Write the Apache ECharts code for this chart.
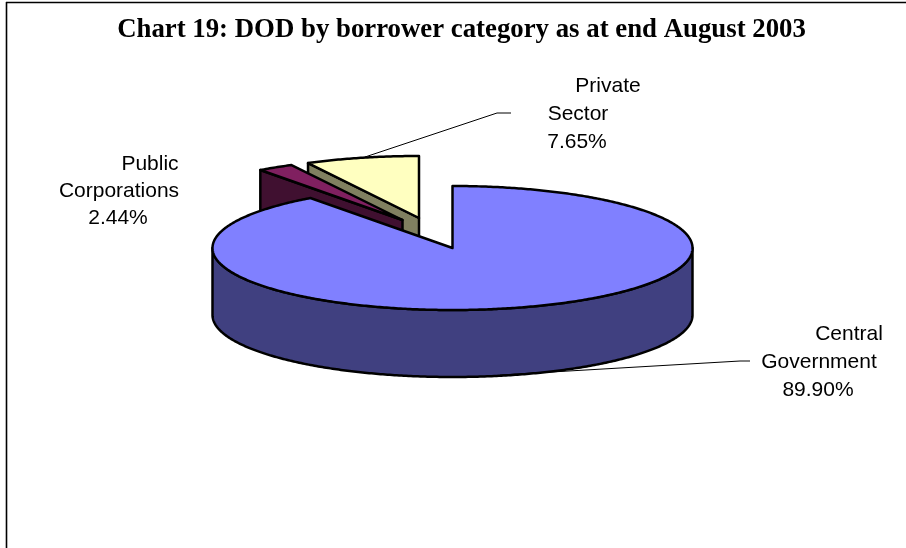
<!DOCTYPE html>
<html>
<head>
<meta charset="utf-8">
<style>
  html, body { margin: 0; padding: 0; background: #fff; }
  #chart { width: 906px; height: 548px; }
</style>
<script src="https://cdn.jsdelivr.net/npm/echarts@6/dist/echarts.min.js"></script>
</head>
<body>
<div id="chart"></div>
<script>
// Outstanding debt shares by borrower category, in percent, clockwise from twelve o'clock.
const categories = ['Central Government', 'Public Corporations', 'Private Sector'];
const shares = [89.90, 2.44, 7.65];

const total = shares.reduce((a, b) => a + b, 0);
const TAU = Math.PI * 2;

// Tilted-disc projection of the pie.
const disc = { cx: 452.5, cy: 248, rx: 240, ry: 62, depth: 67 };

// Per-slice drawing details: explosion offset, fills, paint order, label lines and leader.
const sliceLook = [
  {
    dx: 0, dy: 0, top: '#8080FF', side: '#404080', z: 3,
    lines: [['Central', 849, 334], ['Government', 819, 362]],
    pct: [818, 390],
    leader: [[500, 375], [740, 361], [750, 361]]
  },
  {
    dx: -50, dy: -28, top: '#802060', side: '#401030', z: 2,
    lines: [['Public', 150, 164], ['Corporations', 119, 191]],
    pct: [118, 218],
    leader: null
  },
  {
    dx: -33.5, dy: -30, top: '#FFFFC0', side: '#808060', z: 1,
    lines: [['Private', 608, 86], ['Sector', 578, 114]],
    pct: [577, 142],
    leader: [[365, 157], [497, 113], [511, 113]]
  }
];

function rimPoint(theta, dx, dy, drop) {
  return [
    disc.cx + dx + disc.rx * Math.sin(theta),
    disc.cy + dy - disc.ry * Math.cos(theta) + drop
  ];
}

function arcPoints(from, to, dx, dy, drop) {
  const steps = Math.max(2, Math.ceil(Math.abs(to - from) / 0.01));
  const pts = [];
  for (let i = 0; i <= steps; i++) {
    pts.push(rimPoint(from + (to - from) * i / steps, dx, dy, drop));
  }
  return pts;
}

function startAngle(index) {
  let sum = 0;
  for (let i = 0; i < index; i++) sum += shares[i];
  return sum / total * TAU;
}

const outline = { stroke: '#000', lineWidth: 2.5, lineJoin: 'round' };

function renderSlice(params, api) {
  const i = params.dataIndex;
  const look = sliceLook[i];
  const from = startAngle(i);
  const to = from + api.value(0) / total * TAU;
  const apex = [disc.cx + look.dx, disc.cy + look.dy];
  const children = [];

  // Cut wall facing the viewer, for slices whose start edge lies in the upper-left quadrant.
  if (Math.sin(from) < -1e-6 && Math.cos(from) > 1e-6) {
    const rim = rimPoint(from, look.dx, look.dy, 0);
    children.push({
      type: 'polygon', z2: look.z,
      shape: { points: [rim, apex, [apex[0], apex[1] + disc.depth], [rim[0], rim[1] + disc.depth]] },
      style: { fill: look.side, ...outline }
    });
  }

  // Outer wall: only the part of the rim on the near half of the disc.
  const nearFrom = Math.max(from, Math.PI / 2);
  const nearTo = Math.min(to, Math.PI * 1.5);
  if (nearTo > nearFrom) {
    const upper = arcPoints(nearFrom, nearTo, look.dx, look.dy, 0);
    const lower = arcPoints(nearTo, nearFrom, look.dx, look.dy, disc.depth);
    children.push({
      type: 'polygon', z2: look.z,
      shape: { points: upper.concat(lower) },
      style: { fill: look.side, ...outline }
    });
  }

  // Top surface of the slice.
  children.push({
    type: 'polygon', z2: look.z,
    shape: { points: [apex].concat(arcPoints(from, to, look.dx, look.dy, 0)) },
    style: { fill: look.top, ...outline }
  });

  // Leader line running out to the label.
  if (look.leader) {
    children.push({
      type: 'polyline', z2: 5,
      shape: { points: look.leader },
      style: { fill: 'none', stroke: '#000', lineWidth: 1 }
    });
  }

  // Label: name lines followed by the share stated to two decimals.
  const textRows = look.lines.concat([[api.value(0).toFixed(2) + '%', look.pct[0], look.pct[1]]]);
  textRows.forEach(([text, x, y]) => {
    children.push({
      type: 'text', z2: 6,
      x, y,
      style: {
        text, fill: '#000',
        font: '21px "Liberation Sans", Arial, sans-serif',
        align: 'center', verticalAlign: 'middle'
      }
    });
  });

  return { type: 'group', children };
}

const chart = echarts.init(document.getElementById('chart'), null, { renderer: 'canvas' });
chart.setOption({
  animation: false,
  backgroundColor: '#fff',
  title: {
    text: 'Chart 19: DOD by borrower category as at end August 2003',
    left: 456.5,
    top: 12,
    textAlign: 'center',
    textStyle: {
      fontFamily: '"Liberation Serif", "Times New Roman", serif',
      fontWeight: 'bold',
      fontSize: 26.8,
      color: '#000'
    }
  },
  // Chart-area frame: only its top and left edges fall inside the page.
  graphic: [
    { type: 'line', shape: { x1: 6, y1: 2.5, x2: 906, y2: 2.5 }, style: { stroke: '#000', lineWidth: 1.6 } },
    { type: 'line', shape: { x1: 6.5, y1: 2, x2: 6.5, y2: 548 }, style: { stroke: '#000', lineWidth: 1.6 } }
  ],
  series: [{
    type: 'custom',
    coordinateSystem: 'none',
    clip: false,
    silent: true,
    data: categories.map((name, i) => ({ name, value: [shares[i]] })),
    renderItem: renderSlice
  }]
});
</script>
</body>
</html>
